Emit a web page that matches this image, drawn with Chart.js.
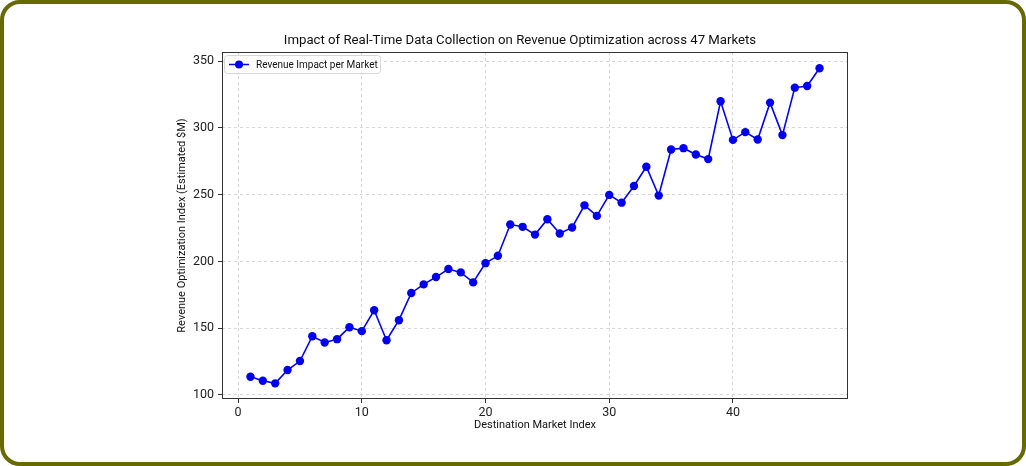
<!DOCTYPE html>
<html>
<head>
<meta charset="utf-8">
<script src="https://cdn.jsdelivr.net/npm/chart.js@4.4.0/dist/chart.umd.min.js"></script>
<style>
  html, body { margin: 0; padding: 0; background: #fff; }
  #frame {
    position: absolute; left: 0; top: 0;
    width: 1026px; height: 466px;
    box-sizing: border-box;
    border: 4px solid #666a00;
    border-radius: 20px;
    background: #fff;
  }
  #myChart { position: absolute; left: 0; top: 0; }
</style>
</head>
<body>
<div id="frame"></div>
<canvas id="myChart" width="1026" height="466"></canvas>
<script>
// Datos
var mercados = [1, 2, 3, 4, 5, 6, 7, 8, 9, 10, 11, 12, 13, 14, 15, 16, 17, 18, 19, 20, 21, 22, 23, 24,
    25, 26, 27, 28, 29, 30, 31, 32, 33, 34, 35, 36, 37, 38, 39, 40, 41, 42, 43, 44, 45, 46, 47];
var impacto = [113.7, 110.7, 108.7, 118.7, 125.4, 144.0, 139.3, 141.8, 150.7, 147.8, 163.4, 141.0,
    156.0, 176.4, 182.8, 188.3, 194.3, 191.8, 184.3, 198.7, 204.2, 227.6, 225.9, 220.1, 231.6,
    220.9, 225.4, 242.0, 234.1, 249.8, 244.0, 256.5, 270.9, 249.3, 283.8, 284.8, 280.1, 276.6,
    319.9, 291.0, 296.8, 291.3, 318.9, 294.6, 330.1, 331.3, 344.6];
var ticksX = [0, 10, 20, 30, 40];
var ticksY = [100, 150, 200, 250, 300, 350];

var titulo = 'Impact of Real-Time Data Collection on Revenue Optimization across 47 Markets';
var fuente = 'Roboto, "Noto Sans", sans-serif';
var azul = '#0000ee';

// Titulo, bordes y leyenda al estilo matplotlib
var extras = {
    id: 'extras',
    afterDraw: function(chart) {
        var c = chart.ctx;
        var a = chart.chartArea;
        c.save();
        // bordes del area
        c.strokeStyle = '#333';
        c.lineWidth = 1;
        c.strokeRect(a.left + 0.5, a.top + 0.5, a.right - a.left - 1, a.bottom - a.top - 1);
        // titulo
        c.fillStyle = '#111';
        c.font = '13.2px ' + fuente;
        c.textAlign = 'center';
        c.textBaseline = 'middle';
        c.fillText(titulo, 520, 41);
        // leyenda
        var lx = a.left + 2, ly = a.top + 3, lw = 156, lh = 18;
        c.beginPath();
        c.roundRect(lx + 0.5, ly + 0.5, lw, lh, 3);
        c.fillStyle = 'rgba(255,255,255,0.8)';
        c.fill();
        c.strokeStyle = '#d6d6d6';
        c.stroke();
        c.strokeStyle = azul;
        c.lineWidth = 1.5;
        c.beginPath();
        c.moveTo(lx + 5, ly + 9.5);
        c.lineTo(lx + 25, ly + 9.5);
        c.stroke();
        c.fillStyle = azul;
        c.beginPath();
        c.arc(lx + 15, ly + 9.5, 4, 0, Math.PI * 2);
        c.fill();
        c.fillStyle = '#111';
        c.font = '10px ' + fuente;
        c.textAlign = 'left';
        c.fillText(chart.data.datasets[0].label, lx + 32, ly + 10);
        c.restore();
    }
};

var ctx = document.getElementById('myChart').getContext('2d');
var myChart = new Chart(ctx, {
    type: 'line',
    data: {
        datasets: [{
            label: 'Revenue Impact per Market',
            data: mercados.map(function(m, i) { return {x: m, y: impacto[i]}; }),
            borderColor: azul,
            backgroundColor: azul,
            borderWidth: 1.6,
            pointRadius: 4.2,
            pointBorderWidth: 0,
            pointBackgroundColor: azul,
            tension: 0
        }]
    },
    options: {
        responsive: false,
        animation: false,
        layout: { padding: { left: 176, right: 178, top: 52, bottom: 34 } },
        plugins: {
            legend: { display: false },
            tooltip: { enabled: false },
            title: { display: false }
        },
        scales: {
            x: {
                type: 'linear',
                min: -1.3,
                max: 49.3,
                afterFit: function(s) { s.height = 33; },
                afterBuildTicks: function(s) { s.ticks = ticksX.map(function(v) { return {value: v}; }); },
                grid: { color: '#cccccc', lineWidth: 0.8, tickColor: '#333', tickLength: 4, tickWidth: 1 },
                border: { display: false, dash: [3, 3] },
                ticks: { color: '#222', font: { family: fuente, size: 12.5 }, padding: 2, maxRotation: 0 },
                title: { display: true, text: 'Destination Market Index', color: '#111',
                    font: { family: fuente, size: 11 }, padding: 0 }
            },
            y: {
                min: 97,
                max: 356.8,
                afterFit: function(s) { s.width = 46; },
                afterBuildTicks: function(s) { s.ticks = ticksY.map(function(v) { return {value: v}; }); },
                grid: { color: '#cccccc', lineWidth: 0.8, tickColor: '#333', tickLength: 4, tickWidth: 1 },
                border: { display: false, dash: [3, 3] },
                ticks: { color: '#222', font: { family: fuente, size: 12.5 }, padding: 4 },
                title: { display: true, text: 'Revenue Optimization Index (Estimated $M)', color: '#111',
                    font: { family: fuente, size: 11 }, padding: 0 }
            }
        }
    },
    plugins: [extras]
});
</script>
</body>
</html>
